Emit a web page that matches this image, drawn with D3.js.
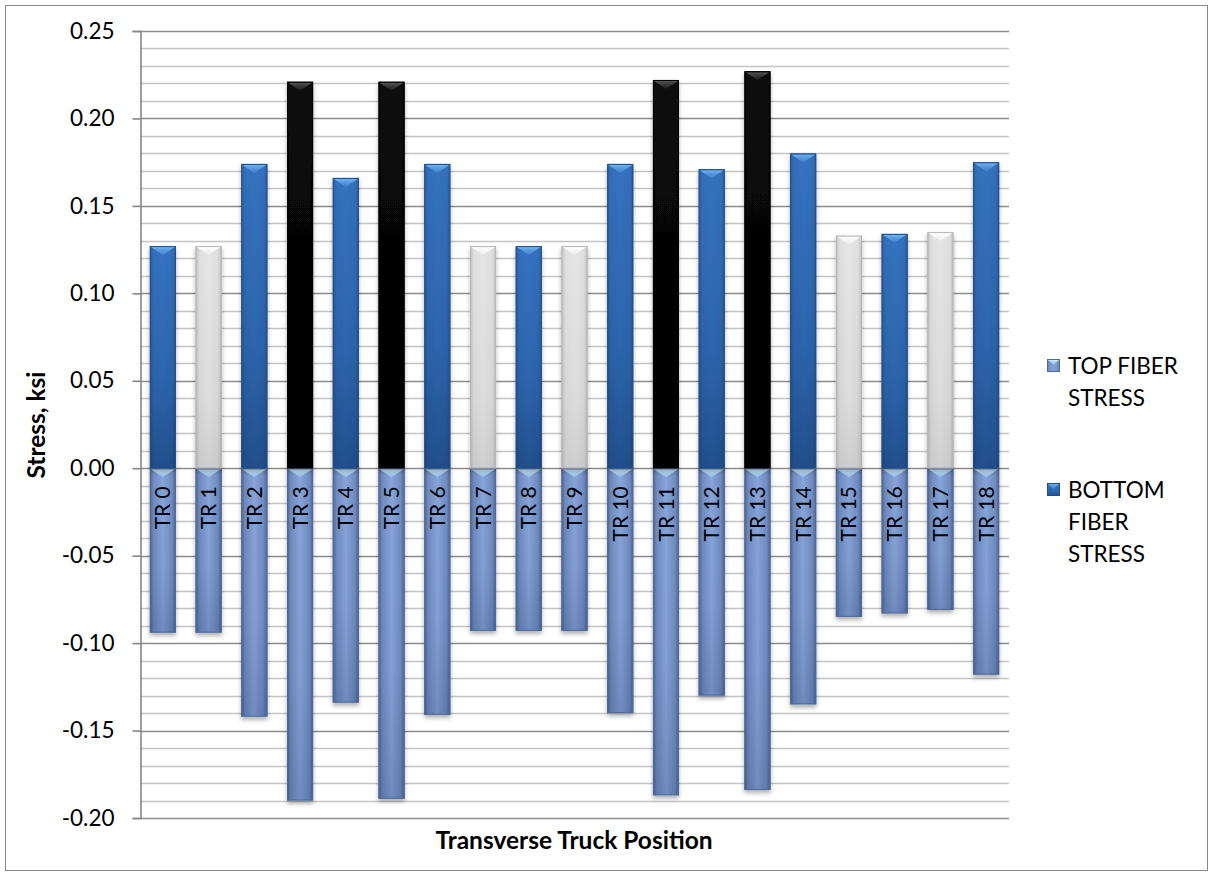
<!DOCTYPE html>
<html>
<head>
<meta charset="utf-8">
<script src="https://cdn.jsdelivr.net/npm/d3@7"></script>
<style>
  html, body { margin: 0; padding: 0; background: #fff; }
  svg { display: block; font-family: Lato, "Open Sans", sans-serif; }
</style>
</head>
<body>
<svg id="chart" width="1210" height="872"></svg>
<script>
// Transverse truck positions along the deck
const categories = ["TR 0","TR 1","TR 2","TR 3","TR 4","TR 5","TR 6","TR 7","TR 8","TR 9",
                    "TR 10","TR 11","TR 12","TR 13","TR 14","TR 15","TR 16","TR 17","TR 18"];

// Stress values, ksi
const topFiberStress    = [-0.094,-0.094,-0.142,-0.190,-0.134,-0.189,-0.141,-0.093,-0.093,-0.093,
                           -0.140,-0.187,-0.130,-0.184,-0.135,-0.085,-0.083,-0.081,-0.118];
const bottomFiberStress = [0.127,0.127,0.174,0.221,0.166,0.221,0.174,0.127,0.127,0.127,
                           0.174,0.222,0.171,0.227,0.180,0.133,0.134,0.135,0.175];

// Positions whose bottom-fiber bar is highlighted
const peakPositions  = ["TR 3","TR 5","TR 11","TR 13"];
const lightPositions = ["TR 1","TR 7","TR 9","TR 15","TR 17"];

const seriesNames = ["TOP FIBER STRESS", "BOTTOM FIBER STRESS"];
const legendLines = [["TOP FIBER","STRESS"], ["BOTTOM","FIBER","STRESS"]];

const yTickValues = [-0.20,-0.15,-0.10,-0.05,0.00,0.05,0.10,0.15,0.20,0.25];
const yMinorStep = 0.01;

const yTitle = "Stress, ksi";
const xTitle = "Transverse Truck Position";

// ---------------------------------------------------------------
const svg = d3.select("#chart");
const plot = { left: 140, right: 1009, top: 31, bottom: 818 };

const x = d3.scaleBand()
  .domain(categories)
  .range([plot.left, plot.right])
  .paddingInner(0.43)
  .paddingOuter(0.215);

const y = d3.scaleLinear()
  .domain([-0.20, 0.25])
  .range([plot.bottom, plot.top]);

const defs = svg.append("defs");

function linGrad(id, horizontal, stops) {
  const g = defs.append("linearGradient").attr("id", id)
    .attr("x1", 0).attr("y1", 0)
    .attr("x2", horizontal ? 1 : 0).attr("y2", horizontal ? 0 : 1);
  stops.forEach(([o, c, a]) => g.append("stop").attr("offset", o)
    .attr("stop-color", c).attr("stop-opacity", a === undefined ? 1 : a));
}
// fills
linGrad("negFill", true, [[0,"#5f7aad"],[0.15,"#7390c6"],[0.5,"#88a5d9"],[0.85,"#7390c6"],[1,"#5f7aad"]]);
linGrad("negShade", false, [[0,"#1e3766",0],[0.6,"#1e3766",0.05],[1,"#1e3766",0.22]]);
linGrad("blueFill", false, [[0,"#3572c0"],[0.6,"#2d65ad"],[1,"#214f8c"]]);
linGrad("grayFill", false, [[0,"#e6e6e6"],[0.7,"#dcdcdc"],[1,"#cfcfcf"]]);
linGrad("blackFill", false, [[0,"#0a0a0a"],[1,"#000000"]]);
linGrad("edgeShade", true, [[0,"#000",0.18],[0.14,"#000",0.03],[0.5,"#000",0],[0.86,"#000",0.03],[1,"#000",0.18]]);
// bevel highlights
linGrad("bevNeg", false, [[0,"#cdeeff"],[1,"#9fcdf0",0.6]]);
linGrad("bevBlue", false, [[0,"#6fb3f2"],[1,"#4a8ad6",0.6]]);
linGrad("bevGray", false, [[0,"#ffffff"],[1,"#f2f2f2",0.6]]);
linGrad("bevBlack", false, [[0,"#555555"],[1,"#2a2a2a",0.6]]);

const shadow = defs.append("filter").attr("id", "barShadow")
  .attr("x", "-30%").attr("y", "-10%").attr("width", "160%").attr("height", "125%");
shadow.append("feDropShadow").attr("dx", 0).attr("dy", 3).attr("stdDeviation", 2.2)
  .attr("flood-color", "#000").attr("flood-opacity", 0.3);

// chart frame
svg.append("rect")
  .attr("x", 5.5).attr("y", 5.5).attr("width", 1202).attr("height", 865)
  .attr("fill", "#fff").attr("stroke", "#8a8a8a").attr("stroke-width", 1);

// gridlines
const minorTicks = d3.range(-20, 26).map(i => +(i * yMinorStep).toFixed(2));
const isMajor = v => Math.abs(Math.round(v * 100) % 5) === 0;
svg.append("g").selectAll("line")
  .data(minorTicks.filter(v => !isMajor(v)))
  .join("line")
  .attr("x1", plot.left).attr("x2", plot.right)
  .attr("y1", d => Math.round(y(d)) + 0.5).attr("y2", d => Math.round(y(d)) + 0.5)
  .attr("stroke", "#c4c4c4").attr("stroke-width", 1.6);
svg.append("g").selectAll("line")
  .data(yTickValues)
  .join("line")
  .attr("x1", plot.left).attr("x2", plot.right)
  .attr("y1", d => Math.round(y(d)) + 0.5).attr("y2", d => Math.round(y(d)) + 0.5)
  .attr("stroke", "#8c8c8c").attr("stroke-width", 1.6);

// y axis
const yAxis = d3.axisLeft(y)
  .tickValues(yTickValues)
  .tickSize(8)
  .tickPadding(18)
  .tickFormat(d => d3.format(".2f")(d).replace("−", "-"));
const yAxisG = svg.append("g")
  .attr("transform", `translate(${plot.left + 0.5},0)`)
  .call(yAxis);
yAxisG.select(".domain").attr("stroke", "#868686").attr("stroke-width", 1.6);
yAxisG.selectAll(".tick line").attr("stroke", "#868686").attr("stroke-width", 1.6);
yAxisG.selectAll(".tick text")
  .attr("font-family", "Lato, sans-serif")
  .attr("font-size", 22.5).attr("fill", "#000");

// bars
function drawBar(g, x0, w, v, fillId, bevId, stroke) {
  const yTop = Math.min(y(0), y(v));
  const h = Math.abs(y(v) - y(0));
  const grp = g.append("g").attr("filter", "url(#barShadow)");
  grp.append("rect").attr("x", x0).attr("y", yTop).attr("width", w).attr("height", h)
    .attr("fill", `url(#${fillId})`);
  if (v < 0) {
    grp.append("rect").attr("x", x0).attr("y", yTop).attr("width", w).attr("height", h)
      .attr("fill", "url(#negShade)");
  }
  grp.append("rect").attr("x", x0).attr("y", yTop).attr("width", w).attr("height", h)
    .attr("fill", "url(#edgeShade)");
  grp.append("polygon")
    .attr("points", [[x0 + 1, yTop + 1], [x0 + w - 1, yTop + 1], [x0 + w / 2, yTop + 9]].map(p => p.join(",")).join(" "))
    .attr("fill", `url(#${bevId})`);
  grp.append("rect").attr("x", x0 + 0.5).attr("y", yTop + 0.5)
    .attr("width", w - 1).attr("height", Math.max(0, h - 1))
    .attr("fill", "none").attr("stroke", stroke).attr("stroke-width", 1);
}

const barsG = svg.append("g");
categories.forEach((c, i) => {
  const x0 = x(c), w = x.bandwidth();
  drawBar(barsG, x0, w, topFiberStress[i], "negFill", "bevNeg", "#4f6a9c");
  let fillId = "blueFill", bevId = "bevBlue", stroke = "#234f88";
  if (peakPositions.includes(c)) { fillId = "blackFill"; bevId = "bevBlack"; stroke = "#000"; }
  else if (lightPositions.includes(c)) { fillId = "grayFill"; bevId = "bevGray"; stroke = "#b8b8b8"; }
  drawBar(barsG, x0, w, bottomFiberStress[i], fillId, bevId, stroke);
});

// category labels, written up the negative bars
svg.append("g").selectAll("text")
  .data(categories)
  .join("text")
  .attr("transform", d => `translate(${x(d) + x.bandwidth() / 2},${y(0) + 18}) rotate(-90)`)
  .attr("text-anchor", "end")
  .attr("dy", "0.36em")
  .attr("font-size", 21)
  .attr("fill", "#000")
  .text(d => d);

// axis titles
svg.append("text")
  .attr("transform", `translate(36,425) rotate(-90)`)
  .attr("text-anchor", "middle")
  .attr("dy", "0.36em")
  .attr("font-size", 24.5).attr("font-weight", "bold")
  .text(yTitle);

svg.append("text")
  .attr("x", 574)
  .attr("y", 849)
  .attr("text-anchor", "middle")
  .attr("font-size", 24.5).attr("font-weight", "bold")
  .text(xTitle);

// legend
const legendFills = [["negFill", "bevNeg", "#4f6a9c"], ["blueFill", "bevBlue", "#234f88"]];
const legendTop = [366, 490];
const legend = svg.append("g");
seriesNames.forEach((name, k) => {
  const [fillId, bevId, stroke] = legendFills[k];
  const lx = 1047, ly = legendTop[k] - 7, s = 13;
  const item = legend.append("g").attr("aria-label", name);
  item.append("rect").attr("x", lx).attr("y", ly).attr("width", s).attr("height", s)
    .attr("fill", `url(#${fillId})`);
  item.append("polygon")
    .attr("points", [[lx + 1, ly + 1], [lx + s - 1, ly + 1], [lx + s / 2, ly + 6]].map(p => p.join(",")).join(" "))
    .attr("fill", `url(#${bevId})`);
  item.append("rect").attr("x", lx + 0.5).attr("y", ly + 0.5).attr("width", s - 1).attr("height", s - 1)
    .attr("fill", "none").attr("stroke", stroke);
  item.append("text")
    .attr("x", 1068).attr("y", legendTop[k])
    .attr("font-size", 22.5).attr("fill", "#000")
    .selectAll("tspan")
    .data(legendLines[k])
    .join("tspan")
    .attr("x", 1068)
    .attr("dy", (d, j) => j === 0 ? "0.36em" : "32px")
    .text(d => d);
});
</script>
</body>
</html>
